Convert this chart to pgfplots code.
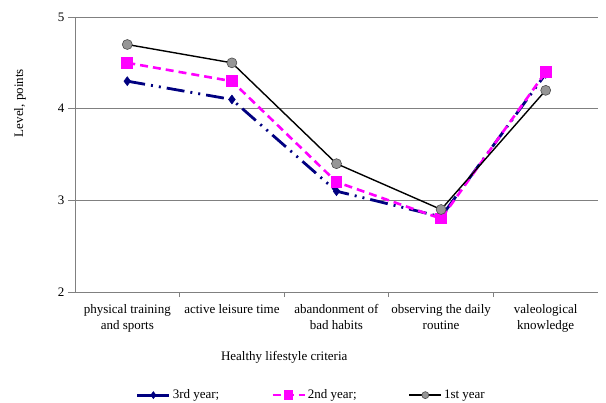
\documentclass[border=0pt]{standalone}
\usepackage{pgfplots}
\pgfplotsset{compat=1.18}
\usepackage{fontspec}
\setmainfont{Liberation Serif}
\definecolor{navyb}{RGB}{0,0,128}
\definecolor{magb}{RGB}{255,0,255}
\definecolor{gridg}{RGB}{128,128,128}
\definecolor{markg}{RGB}{150,150,150}
\pgfplotsset{
  mylegend/.style={legend image code/.code={\draw[##1, mark repeat=2, mark phase=2, mark size=3.5bp] plot coordinates {(0bp,0bp) (16bp,0bp) (32bp,0bp)};}},
  solidlegend/.style={legend image code/.code={\draw[##1, solid, mark repeat=2, mark phase=2, mark size=3.5bp] plot coordinates {(0bp,0bp) (16bp,0bp) (32bp,0bp)};}},
}
\begin{document}
\begin{tikzpicture}
\path[use as bounding box] (-75bp,-111bp) rectangle (531bp,292bp);
\begin{axis}[
  scale only axis,
  width=523bp, height=275bp,
  xmin=-0.5, xmax=4.5, ymin=2, ymax=5,
  axis x line=bottom, axis y line=left,
  axis line style={-, draw=gridg, line width=0.8bp},
  xtick={0,1,2,3,4},
  xticklabels={{physical training\\and sports}, {active leisure time}, {abandonment of\\bad habits}, {observing the daily\\routine}, {valeological\\knowledge}},
  xticklabel style={align=center, font=\fontsize{13bp}{16bp}\selectfont, yshift=-2bp},
  major x tick style={draw=none},
  minor xtick={0.5,1.5,2.5,3.5},
  minor tick length=5bp,
  minor x tick style={draw=gridg, line width=0.8bp},
  ytick={2,3,4,5},
  yticklabel style={font=\fontsize{13bp}{14bp}\selectfont},
  /pgf/number format/assume math mode=true,
  tick align=outside,
  major tick length=7bp,
  major y tick style={draw=gridg, line width=0.8bp},
  ymajorgrids,
  major grid style={draw=gridg, line width=0.8bp},
  xlabel={Healthy lifestyle criteria},
  xlabel style={font=\fontsize{13bp}{14bp}\selectfont, at={(rel axis cs:0.40,0)}, anchor=center, yshift=-65bp},
  ylabel={Level, points},
  ylabel style={font=\fontsize{13bp}{14bp}\selectfont, at={(axis description cs:-0.105,0.687)}, anchor=center},
  legend columns=3,
  legend style={at={(rel axis cs:0.452,-0.375)}, anchor=center, draw=none, font=\fontsize{13bp}{14bp}\selectfont, /tikz/every even column/.append style={column sep=50bp}},
  mylegend,
  clip=false,
]
\addplot[navyb, line width=2.8bp, dash pattern=on 18bp off 6bp on 2bp off 6bp on 2bp off 6bp, mark=diamond*, mark size=4.5bp, mark options={solid, fill=navyb, draw=navyb, line width=0.5bp}, solidlegend]
  coordinates {(0,4.3) (1,4.1) (2,3.1) (3,2.82) (4,4.38)};
\addlegendentry{3rd year;}
\addplot[magb, line width=2.6bp, dash pattern=on 8bp off 5bp, mark=square*, mark size=4.5bp, mark options={solid, fill=magb, draw=magb}]
  coordinates {(0,4.5) (1,4.3) (2,3.2) (3,2.8) (4,4.4)};
\addlegendentry{2nd year;}
\addplot[black, line width=1.4bp, mark=*, mark size=5bp, mark options={solid, fill=markg, draw=black!70, line width=0.6bp}]
  coordinates {(0,4.7) (1,4.5) (2,3.4) (3,2.9) (4,4.2)};
\addlegendentry{1st year}
\end{axis}
\end{tikzpicture}
\end{document}
